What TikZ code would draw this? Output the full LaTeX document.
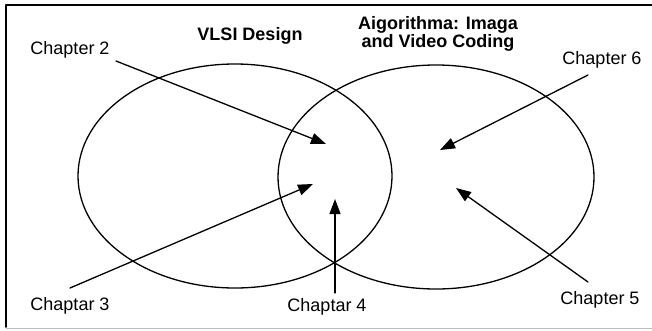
\documentclass[tikz,border=0pt]{standalone}
\usepackage{fontspec}
\setmainfont{Liberation Sans}
\usetikzlibrary{arrows.meta}
\tikzset{
  lbl/.style={inner sep=0pt, font=\fontsize{18}{20}\selectfont},
  ttl/.style={inner sep=0pt, align=center, font=\fontsize{18}{18}\selectfont\bfseries},
  ring/.style={line width=1.3pt},
  ptr/.style={line width=1.3pt, -{Triangle[length=15pt,width=11pt]}}
}
\begin{document}
\begin{tikzpicture}[x=1pt, y=-1pt, line join=round, line cap=round]
            \useasboundingbox (0,0) rectangle (652,330);
            % frame
            \draw[line width=1.5pt] (6,327) -- (6,5) -- (652,5);
            \draw[line width=1pt, black!25] (6,328) -- (652,328);
            % the two sets
            \draw[ring] (235,176) ellipse [x radius=157, y radius=112];
            \draw[ring] (436,177) ellipse [x radius=158, y radius=112];
            \node[ttl] (vlsi) at (250,36) {VLSI Design};
            \node[ttl] (algo) at (438,34) {Aigorithma: Imaga\\and Video Coding};
            % chapters
            \node[lbl] (ch2) at (70,50) {Chapter 2};
            \node[lbl] (ch6) at (602,60) {Chapter 6};
            \node[lbl] (ch3) at (70,306) {Chaptar 3};
            \node[lbl] (ch4) at (327,307) {Chaptar 4};
            \node[lbl] (ch5) at (600,300) {Chapter 5};
            \coordinate (s2) at (116,61);  \coordinate (t2) at (326,144);
            \coordinate (s6) at (588,75);  \coordinate (t6) at (440,150);
            \coordinate (s3) at (70,288);  \coordinate (t3) at (313,184);
            \coordinate (s4) at (335,293); \coordinate (t4) at (335,199);
            \coordinate (s5) at (588,282); \coordinate (t5) at (456,188);
            \draw[ptr] (s2) -- (t2);
            \draw[ptr] (s6) -- (t6);
            \draw[ptr] (s3) -- (t3);
            \draw[ptr] (s4) -- (t4);
            \draw[ptr] (s5) -- (t5);
\end{tikzpicture}
\end{document}
